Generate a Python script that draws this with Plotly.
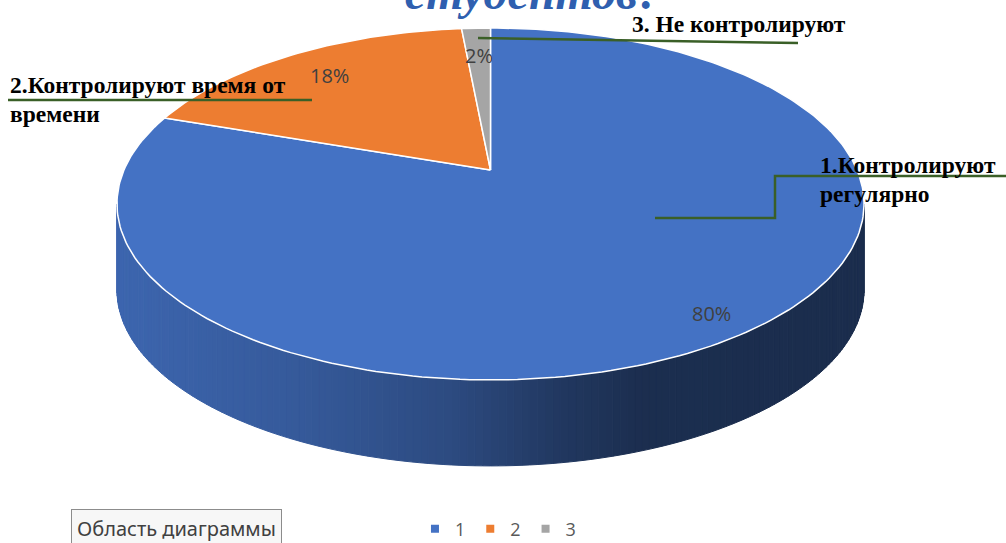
import numpy as np
import plotly.graph_objects as go

# ---------------- data ----------------
categories = ["1", "2", "3"]
values = [80.3, 18.2, 1.5]
category_labels = [
    ["1.Контролируют", "регулярно"],
    ["2.Контролируют время от", "времени"],
    ["3. Не контролируют"],
]
title_text = "студентов?"
tooltip_text = "Область диаграммы"

# ---------------- style ----------------
W, H = 1006, 543
slice_colors = ["#4472C4", "#ED7D31", "#A5A5A5"]
CX, CY = 490.5, 170.0       # apex of the pie (pixels)
RX, RY = 366.5, 169.4       # radii
K = 0.193                   # perspective factor
DEPTH = 86.0                # thickness of the pie
pct_radius = [0.875, 0.82, 0.81]
shade_stops_x = [117, 300, 450, 560, 640, 870]
shade_stops_f = [0.89, 0.785, 0.655, 0.49, 0.405, 0.39]
leader_color = "#3A5F27"
label_font = dict(family="Liberation Serif", size=23.5, color="#000000")
pct_font = dict(family="Open Sans", size=20, color="#404040")

# label layout (pixel positions of text lines, leader-line paths)
label_pos = [
    [(818, 165), (818, 194)],
    [(8, 85), (8, 114)],
    [(630, 24)],
]
leader_paths = [
    [(655, 218), (775, 218), (775, 176), (1010, 176)],
    [(8, 100), (312, 100)],
    [(478, 38), (798, 43)],
]


def proj(theta, r=1.0, dy=0.0):
    s = 1.0 / (1.0 + K * np.cos(theta))
    x = CX + RX * r * np.sin(theta) * s
    y = CY - RY * r * np.cos(theta) * s + dy
    return x, y


def shade(hex_color, f):
    h = hex_color.lstrip("#")
    rgb = [int(h[i:i + 2], 16) for i in (0, 2, 4)]
    return "rgb({},{},{})".format(*[int(round(c * f)) for c in rgb])


fig = go.Figure()

# slice angles (clockwise from 12 o'clock)
total = sum(values)
bounds = np.concatenate([[0], np.cumsum(values)]) / total * 2 * np.pi

# --- side wall (front visible part) ---
t_right = np.arccos(-K)
t_left = 2 * np.pi - np.arccos(-K)
N = 160
edges = np.linspace(t_right, t_left, N + 1)
for i in range(N):
    a, b = edges[i], edges[i + 1]
    mid = 0.5 * (a + b)
    idx = int(np.searchsorted(bounds, mid, side="right") - 1)
    idx = min(max(idx, 0), len(values) - 1)
    ts = np.linspace(a, b, 4)
    xt, yt = proj(ts)
    xb, yb = proj(ts[::-1], dy=DEPTH)
    xs = np.concatenate([xt, xb, xt[:1]])
    ys = np.concatenate([yt, yb, yt[:1]])
    xm = proj(mid)[0]
    f = float(np.interp(xm, shade_stops_x, shade_stops_f))
    col = shade(slice_colors[idx], f)
    fig.add_trace(go.Scatter(x=xs, y=ys, mode="lines", fill="toself",
                             fillcolor=col, line=dict(color=col, width=1),
                             hoverinfo="skip", showlegend=False))

# --- top face slices ---
for i, v in enumerate(values):
    a, b = bounds[i], bounds[i + 1]
    n = max(8, int(300 * v / total))
    ts = np.linspace(a, b, n)
    xa, ya = proj(ts)
    xs = np.concatenate([[CX], xa, [CX]])
    ys = np.concatenate([[CY], ya, [CY]])
    fig.add_trace(go.Scatter(x=xs, y=ys, mode="lines", fill="toself",
                             fillcolor=slice_colors[i],
                             line=dict(color="white", width=1.5),
                             hoverinfo="skip", showlegend=False))

# --- leader lines ---
for path in leader_paths:
    fig.add_trace(go.Scatter(x=[p[0] for p in path], y=[p[1] for p in path],
                             mode="lines", line=dict(color=leader_color, width=2.5),
                             hoverinfo="skip", showlegend=False))

# --- legend entries ---
for cat, col in zip(categories, slice_colors):
    fig.add_trace(go.Scatter(x=[None], y=[None], mode="markers", name=cat,
                             marker=dict(symbol="square", size=8, color=col)))

annotations = []
# percentage labels
for i, v in enumerate(values):
    mid = 0.5 * (bounds[i] + bounds[i + 1])
    px, py = proj(mid, r=pct_radius[i])
    pct = int(v / total * 100 + 0.5)
    annotations.append(dict(x=float(px), y=float(py), text=f"{pct}%",
                            showarrow=False, font=pct_font,
                            xanchor="center", yanchor="middle"))
# category labels
for lines, poss in zip(category_labels, label_pos):
    for txt, (lx, ly) in zip(lines, poss):
        annotations.append(dict(x=lx, y=ly, text=f"<b>{txt}</b>", showarrow=False,
                                font=label_font, xanchor="left", yanchor="middle"))
# title (partly cut at the top, as in the reference)
annotations.append(dict(x=533 / W, y=1 + 8 / H, xref="paper", yref="paper",
                        text=f"<b><i>{title_text}</i></b>", showarrow=False,
                        font=dict(family="Liberation Serif", size=48, color="#2F5FAF"),
                        xanchor="center", yanchor="middle"))
# tooltip box
annotations.append(dict(x=176, y=528, text=tooltip_text, showarrow=False,
                        font=dict(family="Noto Sans", size=20, color="#404040"),
                        bgcolor="#f7f7f7", bordercolor="#8c8c8c", borderwidth=1,
                        borderpad=5, xanchor="center", yanchor="middle"))

fig.update_layout(
    width=W, height=H, autosize=False,
    margin=dict(l=0, r=0, t=0, b=0, pad=0, autoexpand=False),
    paper_bgcolor="white", plot_bgcolor="white",
    xaxis=dict(range=[0, W], visible=False, fixedrange=True),
    yaxis=dict(range=[H, 0], visible=False, fixedrange=True),
    annotations=annotations,
    showlegend=True,
    legend=dict(orientation="h", x=0.495, xanchor="center", y=14 / H, yanchor="middle",
                font=dict(family="Open Sans", size=18, color="#595959"),
                itemwidth=30, bgcolor="rgba(0,0,0,0)"),
)

fig.write_html("out.html", config={"displayModeBar": False},
               post_script="document.body.style.margin='0';document.body.style.overflow='hidden';")
